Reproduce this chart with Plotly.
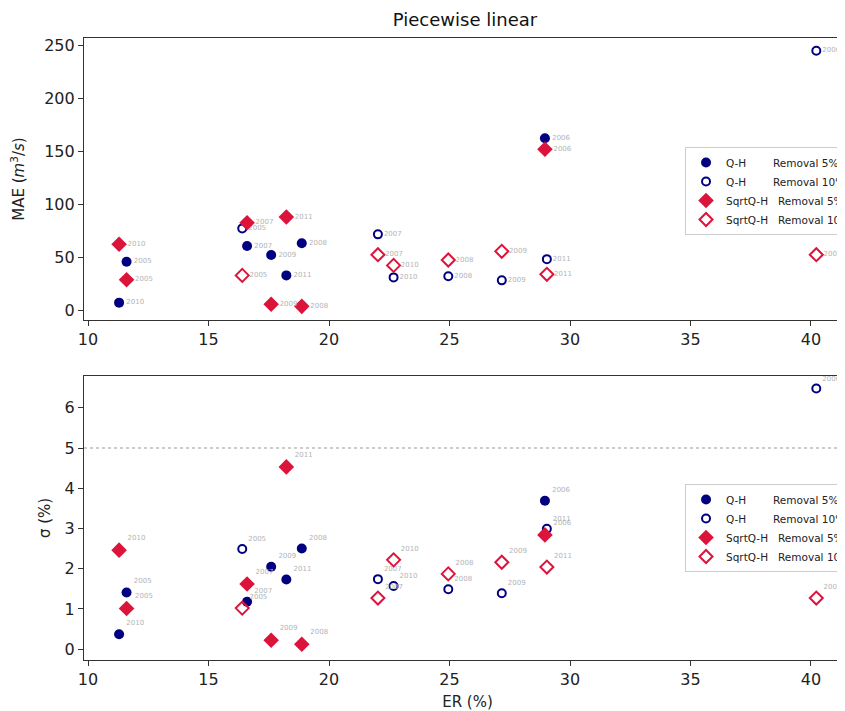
import plotly.graph_objects as go

years = [2005, 2006, 2007, 2008, 2009, 2010, 2011]
er_5 = [11.6, 28.96, 16.6, 18.87, 17.6, 11.29, 18.23]
er_10 = [16.4, 40.22, 22.03, 24.95, 27.17, 22.68, 29.04]

mae_qh_5 = [45.6, 162, 60.4, 63, 52, 7, 32.7]
mae_sq_5 = [28.6, 151.6, 82.4, 3.5, 5.4, 62, 87.7]
mae_qh_10 = [77, 244.6, 71.4, 31.8, 28, 30.8, 48]
mae_sq_10 = [32.7, 52.2, 52.2, 47.2, 55.4, 42.1, 33.7]

sig_qh_5 = [1.41, 3.69, 1.18, 2.5, 2.05, 0.37, 1.73]
sig_sq_5 = [1.01, 2.84, 1.62, 0.12, 0.22, 2.46, 4.53]
sig_qh_10 = [2.49, 6.48, 1.74, 1.49, 1.39, 1.57, 2.99]
sig_sq_10 = [1.02, 1.27, 1.27, 1.87, 2.16, 2.22, 2.04]

NAVY = "#000080"
CRIMSON = "#DC143C"
sp = "\u00a0"
names = ["Q-H" + sp * 8 + "Removal 5%",
         "Q-H" + sp * 8 + "Removal 10%",
         "SqrtQ-H" + sp * 3 + "Removal 5%",
         "SqrtQ-H" + sp * 3 + "Removal 10%"]

fig = go.Figure()


def add_panel(vals, xa, ya, leg, tpos):
    specs = [
        (er_5, vals[0], "circle", NAVY, 10),
        (er_10, vals[1], "circle-open", NAVY, 8),
        (er_5, vals[2], "diamond", CRIMSON, 12),
        (er_10, vals[3], "diamond-open", CRIMSON, 10),
    ]
    for (xs, ys, sym, col, size), nm in zip(specs, names):
        fig.add_trace(go.Scatter(
            x=xs, y=ys, mode="markers+text", name=nm,
            text=[str(y) for y in years], textposition=tpos,
            textfont=dict(size=7, color="#b4b4b4"),
            marker=dict(symbol=sym, color=col, size=size,
                        line=dict(color=col, width=2 if "open" in sym else 0)),
            xaxis=xa, yaxis=ya, legend=leg, hoverinfo="skip"))


add_panel([mae_qh_5, mae_qh_10, mae_sq_5, mae_sq_10], "x", "y", "legend", "middle right")
add_panel([sig_qh_5, sig_qh_10, sig_sq_5, sig_sq_10], "x2", "y2", "legend2", "top right")

axis_common = dict(showline=True, linecolor="#333333", linewidth=1.2, ticks="outside",
                   ticklen=5, tickcolor="#333333", showgrid=False, zeroline=False,
                   automargin=False, tickfont=dict(size=16, color="#222"))

H = 711
# page body adds an 8px offset; figure is wider than the window so the
# right spine and the legend's tail get clipped like in the original
fig.update_layout(
    width=880, height=H,
    margin=dict(l=76, r=37, t=30, b=59),
    plot_bgcolor="white", paper_bgcolor="white",
    font=dict(family="DejaVu Sans", color="#222"),
    title=dict(text="Piecewise linear", x=457 / 880, xref="container", xanchor="center",
               y=1 - 12 / H, yanchor="middle", font=dict(size=18, color="#111")),
    xaxis=dict(domain=[0, 1], anchor="y", range=[9.834, 41.66], mirror=True,
               tickvals=[10, 15, 20, 25, 30, 35, 40], **axis_common),
    yaxis=dict(domain=[0.5466, 1], anchor="x", range=[-9.4, 256.6],
               tickvals=[0, 50, 100, 150, 200, 250],
               title=dict(text="MAE (<i>m</i><sup>3</sup>/<i>s</i>)", font=dict(size=15), standoff=16),
               **axis_common),
    xaxis2=dict(domain=[0, 1], anchor="y2", range=[9.834, 41.66], mirror=True,
                tickvals=[10, 15, 20, 25, 30, 35, 40],
                title=dict(text="ER (%)", font=dict(size=15), standoff=8), **axis_common),
    yaxis2=dict(domain=[0, 0.4566], anchor="x2", range=[-0.27, 6.79],
                tickvals=[0, 1, 2, 3, 4, 5, 6],
                title=dict(text="σ (%)", font=dict(size=15), standoff=10), **axis_common),
    legend=dict(x=0.7836, y=0.8248, xanchor="left", yanchor="top",
                bgcolor="white", bordercolor="#cccccc", borderwidth=1,
                font=dict(size=10.5, color="#222"), tracegroupgap=0),
    legend2=dict(x=0.7836, y=0.283, xanchor="left", yanchor="top",
                 bgcolor="white", bordercolor="#cccccc", borderwidth=1,
                 font=dict(size=10.5, color="#222"), tracegroupgap=0),
    shapes=[dict(type="line", xref="x2 domain", yref="y2", x0=0, x1=1, y0=5, y1=5,
                 line=dict(color="#999999", width=1, dash="dot"), layer="below")],
)

fig.write_html("out.html")
